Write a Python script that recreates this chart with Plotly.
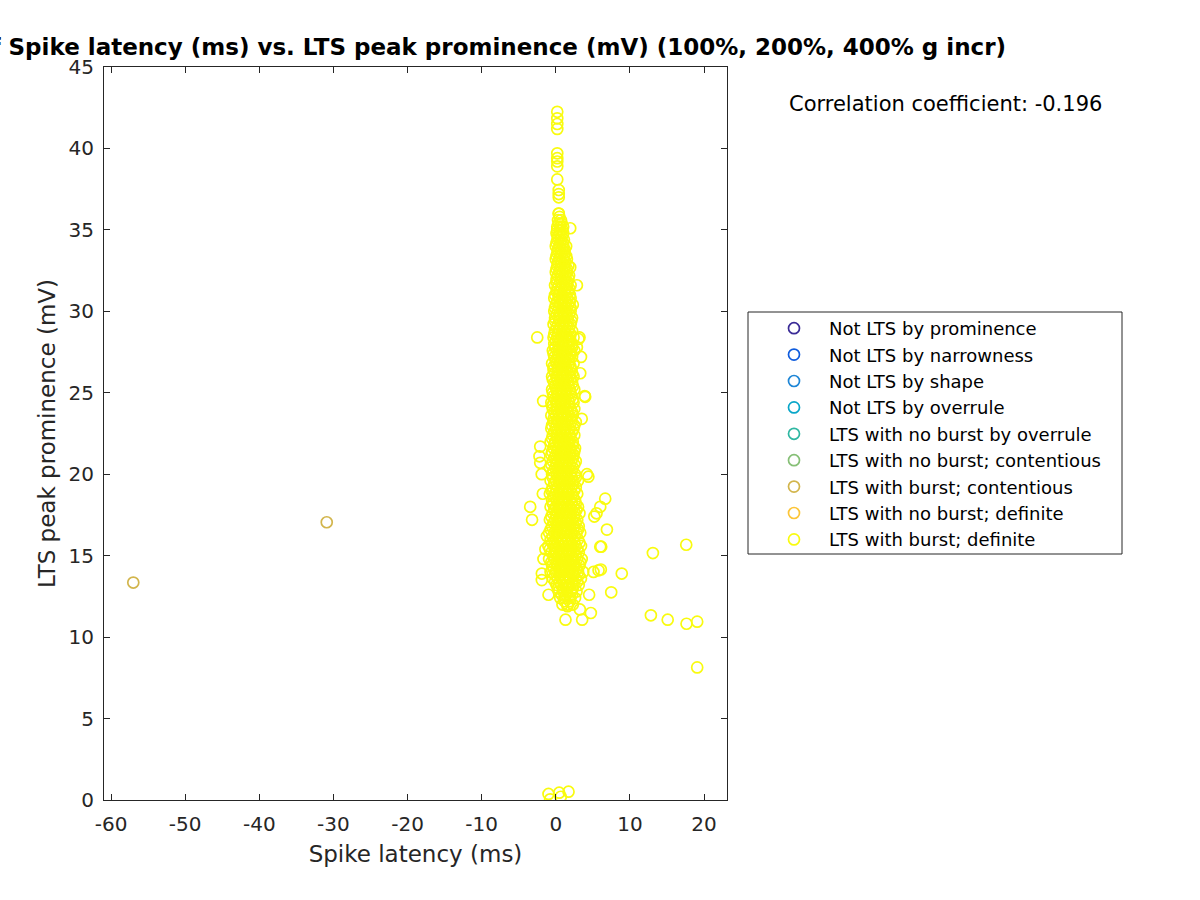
import plotly.graph_objects as go

# ---------------- data ----------------
categories = [
    "Not LTS by prominence",
    "Not LTS by narrowness",
    "Not LTS by shape",
    "Not LTS by overrule",
    "LTS with no burst by overrule",
    "LTS with no burst; contentious",
    "LTS with burst; contentious",
    "LTS with no burst; definite",
    "LTS with burst; definite",
]
colors = ["#3A2B96", "#0F5CDD", "#1E86D6", "#08A6C8", "#2FB7A2",
          "#86BF76", "#D2B54C", "#FCC538", "#F9FB0E"]

# LTS with burst; contentious
x_burst_cont = [-57.0, -30.9]
y_burst_cont = [13.35, 17.05]

# LTS with burst; definite -- dense column, read row by row (y level, x values)
core_rows = [
    (12.0, [0.9, 1.6, 2.3]),
    (12.4, [0.6, 1.2, 1.9, 2.6]),
    (12.8, [0.4, 1.0, 1.5, 2.1, 2.8]),
    (13.2, [0.1, 0.7, 1.3, 1.8, 2.4, 3.1]),
    (13.6, [-0.4, 0.3, 0.9, 1.4, 2.0, 2.7, 3.4]),
    (14.0, [-0.7, 0.0, 0.6, 1.1, 1.7, 2.3, 3.0, 3.7]),
    (14.4, [-0.5, 0.2, 0.8, 1.3, 1.9, 2.5, 3.2]),
    (14.8, [-0.9, -0.2, 0.5, 1.0, 1.6, 2.2, 2.9, 3.5]),
    (15.2, [-0.6, 0.1, 0.7, 1.2, 1.8, 2.4, 3.1]),
    (15.6, [-1.0, -0.3, 0.4, 0.9, 1.5, 2.1, 2.7, 3.4]),
    (16.0, [-0.7, 0.0, 0.6, 1.1, 1.7, 2.3, 3.0]),
    (16.4, [-0.9, -0.2, 0.4, 1.0, 1.5, 2.1, 2.8, 3.3]),
    (16.8, [-0.5, 0.2, 0.8, 1.3, 1.9, 2.5, 3.1]),
    (17.2, [-0.8, -0.1, 0.5, 1.1, 1.6, 2.2, 2.9]),
    (17.6, [-0.4, 0.3, 0.9, 1.4, 2.0, 2.6, 3.2]),
    (18.0, [-0.7, 0.0, 0.6, 1.2, 1.8, 2.4, 3.0]),
    (18.4, [-0.5, 0.2, 0.8, 1.3, 1.9, 2.6]),
    (18.8, [-0.8, -0.1, 0.5, 1.0, 1.6, 2.2, 2.9]),
    (19.2, [-0.4, 0.3, 0.9, 1.5, 2.1, 2.7]),
    (19.6, [-0.7, 0.0, 0.6, 1.2, 1.8, 2.4, 3.0]),
    (20.0, [-0.5, 0.2, 0.8, 1.4, 2.0, 2.6]),
    (20.4, [-0.8, -0.1, 0.5, 1.1, 1.7, 2.3]),
    (20.8, [-0.4, 0.3, 0.9, 1.5, 2.1, 2.7]),
    (21.2, [-0.6, 0.0, 0.6, 1.2, 1.8, 2.4]),
    (21.6, [-0.3, 0.3, 0.9, 1.4, 2.0, 2.6]),
    (22.0, [-0.7, -0.1, 0.5, 1.1, 1.7, 2.3]),
    (22.4, [-0.4, 0.2, 0.8, 1.3, 1.9, 2.5]),
    (22.8, [-0.6, 0.0, 0.6, 1.2, 1.8, 2.4]),
    (23.2, [-0.3, 0.3, 0.9, 1.5, 2.1, 2.7]),
    (23.6, [-0.6, 0.0, 0.6, 1.1, 1.7, 2.3]),
    (24.0, [-0.4, 0.2, 0.8, 1.4, 2.0, 2.5]),
    (24.4, [-0.6, 0.1, 0.7, 1.2, 1.8, 2.4]),
    (24.8, [-0.3, 0.3, 0.9, 1.5, 2.1]),
    (25.2, [-0.5, 0.1, 0.7, 1.3, 1.9, 2.5]),
    (25.6, [-0.2, 0.4, 1.0, 1.6, 2.2]),
    (26.0, [-0.5, 0.1, 0.7, 1.2, 1.8, 2.4]),
    (26.4, [-0.3, 0.3, 0.9, 1.5, 2.1]),
    (26.8, [-0.5, 0.1, 0.6, 1.2, 1.8, 2.4]),
    (27.2, [-0.2, 0.4, 1.0, 1.6, 2.2]),
    (27.6, [-0.4, 0.2, 0.8, 1.4, 2.0, 2.5]),
    (28.0, [-0.2, 0.4, 1.0, 1.6, 2.2]),
    (28.4, [-0.3, 0.2, 0.8, 1.3, 1.9, 2.4]),
    (28.8, [-0.1, 0.5, 1.1, 1.7, 2.2]),
    (29.2, [-0.3, 0.3, 0.9, 1.4, 2.0]),
    (29.6, [-0.1, 0.5, 1.1, 1.6, 2.2]),
    (30.0, [-0.2, 0.3, 0.9, 1.4, 2.0]),
    (30.4, [0.0, 0.6, 1.1, 1.7, 2.3]),
    (30.8, [-0.2, 0.4, 0.9, 1.5, 2.0]),
    (31.2, [0.1, 0.6, 1.2, 1.7]),
    (31.6, [-0.1, 0.4, 1.0, 1.5, 2.0]),
    (32.0, [0.1, 0.7, 1.2, 1.7]),
    (32.4, [0.0, 0.5, 1.0, 1.5]),
    (32.8, [0.2, 0.7, 1.2, 1.7]),
    (33.2, [0.0, 0.5, 1.0, 1.5]),
    (33.6, [0.2, 0.7, 1.2]),
    (34.0, [0.0, 0.5, 1.0, 1.4]),
    (34.4, [0.2, 0.7, 1.1]),
    (34.8, [0.1, 0.5, 1.0]),
    (35.2, [0.2, 0.6, 1.0]),
    (35.6, [0.3, 0.7]),
    (36.0, [0.4]),
]
core_rows_b = [
    (12.2, [1.2, 1.9]),
    (12.6, [0.8, 1.4, 2.2]),
    (13.0, [0.3, 1.0, 1.6, 2.3]),
    (13.4, [-0.1, 0.5, 1.1, 1.6, 2.2, 2.9]),
    (13.8, [-0.1, 0.6, 1.2, 1.7, 2.4, 3.1]),
    (14.2, [-0.3, 0.4, 1.0, 1.5, 2.1, 2.8]),
    (14.6, [-0.6, 0.1, 0.7, 1.2, 1.8, 2.5, 3.3]),
    (15.0, [-0.3, 0.3, 0.9, 1.5, 2.1, 2.7]),
    (15.4, [-0.8, -0.1, 0.6, 1.1, 1.6, 2.2, 2.9]),
    (15.8, [-0.5, 0.2, 0.8, 1.3, 1.9, 2.5, 3.2]),
    (16.2, [-0.4, 0.3, 0.9, 1.4, 2.0, 2.6]),
    (16.6, [-0.7, 0.1, 0.7, 1.2, 1.8, 2.4, 3.0]),
    (17.0, [-0.3, 0.3, 0.9, 1.5, 2.1, 2.7]),
    (17.4, [-0.6, 0.1, 0.7, 1.3, 1.9, 2.5]),
    (17.8, [-0.2, 0.4, 1.0, 1.6, 2.2, 2.8]),
    (18.2, [-0.4, 0.3, 0.9, 1.5, 2.1, 2.7]),
    (18.6, [-0.2, 0.4, 1.0, 1.6, 2.3]),
    (19.0, [-0.6, 0.1, 0.7, 1.3, 1.9, 2.5]),
    (19.4, [-0.2, 0.5, 1.1, 1.7, 2.3]),
    (19.8, [-0.4, 0.3, 0.9, 1.5, 2.1, 2.7]),
    (20.2, [-0.3, 0.4, 1.0, 1.6, 2.2]),
    (20.6, [-0.6, 0.1, 0.7, 1.3, 1.9, 2.5]),
    (21.0, [-0.2, 0.5, 1.1, 1.7, 2.3]),
    (21.4, [-0.5, 0.2, 0.8, 1.4, 2.0, 2.5]),
    (21.8, [-0.2, 0.5, 1.1, 1.7, 2.3]),
    (22.2, [-0.5, 0.2, 0.8, 1.4, 2.0]),
    (22.6, [-0.2, 0.4, 1.0, 1.6, 2.2]),
    (23.0, [-0.5, 0.1, 0.7, 1.3, 1.9, 2.5]),
    (23.4, [-0.3, 0.3, 0.9, 1.4, 2.0]),
    (23.8, [-0.2, 0.4, 1.0, 1.6, 2.2]),
    (24.2, [-0.5, 0.1, 0.7, 1.2, 1.8]),
    (24.6, [-0.1, 0.5, 1.1, 1.7, 2.3]),
    (25.0, [-0.4, 0.2, 0.8, 1.4, 2.0]),
    (25.4, [-0.1, 0.5, 1.1, 1.7, 2.3]),
    (25.8, [-0.4, 0.2, 0.8, 1.4, 2.0]),
    (26.2, [-0.1, 0.5, 1.1, 1.6, 2.2]),
    (26.6, [-0.3, 0.3, 0.9, 1.4, 2.0]),
    (27.0, [0.0, 0.6, 1.2, 1.8]),
    (27.4, [-0.3, 0.3, 0.9, 1.4, 2.0]),
    (27.8, [-0.1, 0.5, 1.1, 1.7, 2.2]),
    (28.2, [0.0, 0.6, 1.1, 1.6, 2.0]),
    (28.6, [-0.2, 0.3, 0.9, 1.4, 2.0]),
    (29.0, [0.1, 0.7, 1.2, 1.8]),
    (29.4, [-0.1, 0.5, 1.1, 1.6, 2.1]),
    (29.8, [0.1, 0.7, 1.2, 1.8]),
    (30.2, [-0.1, 0.4, 0.9, 1.5, 2.0]),
    (30.6, [0.2, 0.8, 1.3, 1.9]),
    (31.0, [-0.1, 0.4, 0.9, 1.4, 1.9]),
    (31.4, [0.2, 0.8, 1.3, 1.8]),
    (31.8, [0.1, 0.6, 1.1, 1.6]),
    (32.2, [0.3, 0.8, 1.3, 1.8]),
    (32.6, [0.1, 0.6, 1.1, 1.5]),
    (33.0, [0.3, 0.8, 1.3]),
    (33.4, [0.1, 0.6, 1.1, 1.4]),
    (33.8, [0.3, 0.8, 1.2]),
    (34.2, [0.1, 0.6, 1.0]),
    (34.6, [0.3, 0.8]),
    (35.0, [0.2, 0.6, 0.9]),
    (35.4, [0.4, 0.8]),
]

# LTS with burst; definite -- individually readable points
x_burst_def = [
    0.2, 0.2, 0.2, 0.2, 0.2, 0.2, 0.2, 0.2, 0.2, 0.4, 0.4, 0.4, 0.4, 0.5,
    1.95, 1.95, 2.85, 3.07, 3.2, 3.4, 2.85, 3.3, 3.9, 3.97, 3.5, 4.4,
    -2.5, -1.7, -2.1, -2.2, -2.1, -1.9, -1.75, -3.45, -3.2,
    6.67, 6.0, 5.5, 6.9, 6.0, 5.2, 4.2,
    6.13, 13.1, 17.6, 8.9, 7.48, -0.98, 12.83, 15.1, 17.64, 19.08, 19.08,
    1.31, 3.56, 4.73, 3.25, 1.58, 4.5, 5.09, 5.77, 6.08,
    -1.88, -1.88, -1.66, -1.4, -1.2,
    -0.98, -0.76, 0.46, 0.68, 1.72,
]
y_burst_def = [
    42.25, 41.85, 41.5, 41.2, 39.7, 39.4, 39.2, 38.9, 38.1, 37.45, 37.2, 37.0, 36.0, 35.8,
    35.1, 32.7, 31.6, 28.3, 28.4, 27.2, 27.8, 26.2, 24.8, 24.75, 23.4, 19.85,
    28.4, 24.5, 21.7, 21.1, 20.7, 20.0, 18.8, 18.0, 17.2,
    18.5, 18.0, 17.6, 16.6, 15.55, 17.4, 20.0,
    15.55, 15.16, 15.67, 13.9, 12.75, 12.6, 11.34, 11.07, 10.82, 10.95, 8.14,
    11.07, 11.07, 11.48, 11.7, 11.9, 12.6, 14.0, 14.1, 14.15,
    13.5, 13.9, 14.8, 15.4, 16.2,
    0.37, 0.04, 0.45, 0.2, 0.51,
]

correlation_text = "Correlation coefficient: -0.196"
x_ticks = [-60, -50, -40, -30, -20, -10, 0, 10, 20]
x_tick_labels = ["-60", "-50", "-40", "-30", "-20", "-10", "0", "10", "20"]
y_ticks = [0, 5, 10, 15, 20, 25, 30, 35, 40, 45]
y_tick_labels = ["0", "5", "10", "15", "20", "25", "30", "35", "40", "45"]

# ---------------- build ----------------
x_all_def = list(x_burst_def)
y_all_def = list(y_burst_def)
for yv, xs in core_rows + core_rows_b:
    for xv in xs:
        x_all_def.append(xv)
        y_all_def.append(yv)

series = {
    "LTS with burst; contentious": (x_burst_cont, y_burst_cont),
    "LTS with burst; definite": (x_all_def, y_all_def),
}

FONT = "DejaVu Sans"
AXC = "#262626"

fig = go.Figure()
for name, col in zip(categories, colors):
    xs, ys = series.get(name, ([None], [None]))
    fig.add_trace(go.Scatter(
        x=xs, y=ys, mode="markers", name=name,
        marker=dict(symbol="circle-open", size=11, color=col,
                    line=dict(width=1.7, color=col)),
    ))

axis_common = dict(
    showline=True, linecolor=AXC, linewidth=1, mirror="ticks",
    ticks="inside", ticklen=6, tickcolor=AXC, tickwidth=1,
    showgrid=False, zeroline=False,
    tickfont=dict(family=FONT, size=20, color=AXC),
)

fig.update_layout(
    width=1200, height=900,
    margin=dict(l=104, r=473, t=67, b=100),
    paper_bgcolor="white", plot_bgcolor="white",
    font=dict(family=FONT, color=AXC),
    title=dict(
        text="Scatter plot of Spike latency (ms) vs. LTS peak prominence (mV) (100%, 200%, 400% g incr)",
        x=(104 + 727) / 2 / 1200 - 6 / 1200, xanchor="center", xref="container",
        y=1 - 47 / 900, yanchor="middle", yref="container",
        font=dict(family=FONT, size=23, color="black", weight="bold"),
    ),
    xaxis=dict(range=[-60.95, 23.1], tickvals=x_ticks, ticktext=x_tick_labels, ticklabelstandoff=6,
               title=dict(text="Spike latency (ms)", font=dict(family=FONT, size=23, color=AXC), standoff=10),
               **axis_common),
    yaxis=dict(range=[0, 45], tickvals=y_ticks, ticktext=y_tick_labels, ticklabelstandoff=5,
               title=dict(text="LTS peak prominence (mV)", font=dict(family=FONT, size=23, color=AXC), standoff=6),
               **axis_common),
    legend=dict(
        x=(759 - 104) / 623, xanchor="left", xref="paper",
        y=(800 - 310) / 733, yanchor="top", yref="paper",
        font=dict(family=FONT, size=18, color="black"),
        itemwidth=60, bgcolor="rgba(0,0,0,0)", borderwidth=0,
        tracegroupgap=0,
    ),
    showlegend=True,
)

# legend frame like MATLAB
fig.add_shape(type="rect", xref="paper", yref="paper",
              x0=(748 - 104) / 623, x1=(1122 - 104) / 623,
              y0=(800 - 554) / 733, y1=(800 - 312) / 733,
              line=dict(color=AXC, width=1), fillcolor="rgba(0,0,0,0)")

fig.add_annotation(text=correlation_text, xref="paper", yref="paper",
                   x=(945 - 104) / 623, y=(800 - 104) / 733,
                   xanchor="center", yanchor="middle", showarrow=False,
                   font=dict(family=FONT, size=21, color="black"))

fig.write_html("out.html")
